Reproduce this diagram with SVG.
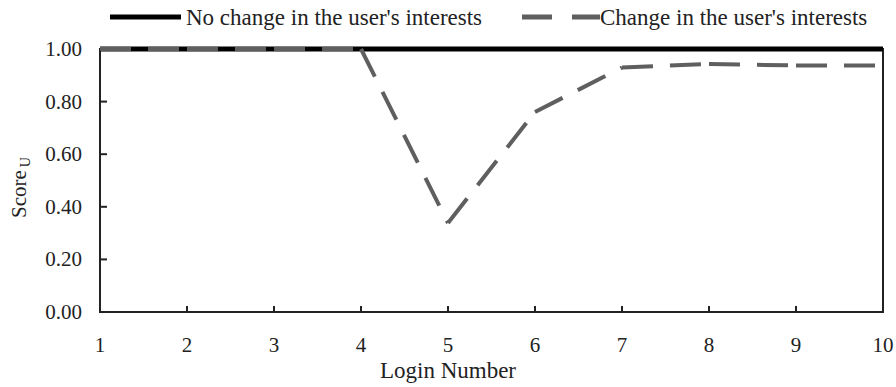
<svg xmlns="http://www.w3.org/2000/svg" width="896" height="387" viewBox="0 0 896 387">
  <style>
    text { font-family: "Liberation Serif", "Times New Roman", serif; fill: #222; }
    .tick-lbl { font-size: 21px; }
    .y-lbl { text-anchor: end; }
    .x-lbl { text-anchor: middle; }
    .legend { font-size: 23px; }
    .axis { stroke: #222; stroke-width: 2; fill: none; }
    .tick { stroke: #222; stroke-width: 2; }
    .solid { stroke: #000; stroke-width: 5; fill: none; }
    .dashed { stroke: #5f5f5f; stroke-width: 4; fill: none; stroke-dasharray: 31 17; }
  </style>

  <rect width="896" height="387" fill="#fff"/>

  <!-- legend -->
  <g id="legend">
    <line x1="110" y1="17" x2="181" y2="17" class="solid"/>
    <text x="186" y="25" class="legend">No change in the user's interests</text>
    <line x1="522" y1="17" x2="600" y2="17" stroke="#5f5f5f" stroke-width="5" stroke-dasharray="30 20"/>
    <text x="600" y="25" class="legend">Change in the user's interests</text>
  </g>

  <!-- plot frame and ticks -->
  <g id="axes">
    <rect x="100" y="49" width="783" height="263" class="axis"/>
    <g class="tick">
      <line x1="100" y1="101.6" x2="107" y2="101.6"/>
      <line x1="100" y1="154.2" x2="107" y2="154.2"/>
      <line x1="100" y1="206.8" x2="107" y2="206.8"/>
      <line x1="100" y1="259.4" x2="107" y2="259.4"/>
      <line x1="187" y1="312" x2="187" y2="306"/>
      <line x1="274" y1="312" x2="274" y2="306"/>
      <line x1="361" y1="312" x2="361" y2="306"/>
      <line x1="448" y1="312" x2="448" y2="306"/>
      <line x1="535" y1="312" x2="535" y2="306"/>
      <line x1="622" y1="312" x2="622" y2="306"/>
      <line x1="709" y1="312" x2="709" y2="306"/>
      <line x1="796" y1="312" x2="796" y2="306"/>
    </g>
  </g>

  <!-- axis labels -->
  <g id="y-labels" class="tick-lbl y-lbl">
    <text x="82" y="56">1.00</text>
    <text x="82" y="108.6">0.80</text>
    <text x="82" y="161.2">0.60</text>
    <text x="82" y="213.8">0.40</text>
    <text x="82" y="266.4">0.20</text>
    <text x="82" y="319">0.00</text>
  </g>
  <g id="x-labels" class="tick-lbl x-lbl">
    <text x="100" y="352">1</text>
    <text x="187" y="352">2</text>
    <text x="274" y="352">3</text>
    <text x="361" y="352">4</text>
    <text x="448" y="352">5</text>
    <text x="535" y="352">6</text>
    <text x="622" y="352">7</text>
    <text x="709" y="352">8</text>
    <text x="796" y="352">9</text>
    <text x="883" y="352">10</text>
  </g>
  <text x="448" y="378" class="legend" text-anchor="middle">Login Number</text>
  <text transform="translate(26 218) rotate(-90)" font-size="21">Score<tspan font-size="14" dy="4" dx="3">U</tspan></text>

  <!-- data series -->
  <g id="connectors">
    <line id="series-unchanged" x1="100" y1="49" x2="883" y2="49" class="solid"/>
    <g id="series-changed" class="dashed">
      <line x1="100" y1="49" x2="187" y2="49"/>
      <line x1="187" y1="49" x2="274" y2="49"/>
      <line x1="274" y1="49" x2="361" y2="49"/>
      <line x1="361" y1="49" x2="448" y2="223"/>
      <line x1="448" y1="223" x2="535" y2="112"/>
      <line x1="535" y1="112" x2="622" y2="67.5"/>
      <line x1="622" y1="67.5" x2="709" y2="64"/>
      <line x1="709" y1="64" x2="796" y2="65.5"/>
      <line x1="796" y1="65.5" x2="883" y2="65.5"/>
    </g>
  </g>
</svg>
